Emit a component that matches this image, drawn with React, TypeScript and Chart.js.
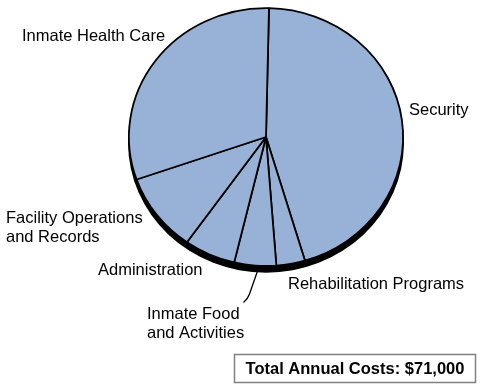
import React, { useEffect, useRef } from "react";
import { Chart, registerables } from "chart.js";

Chart.register(...registerables);

const categories: string[][] = [
  ["Security"],
  ["Rehabilitation Programs"],
  ["Inmate Food", "and Activities"],
  ["Administration"],
  ["Facility Operations", "and Records"],
  ["Inmate Health Care"],
];
const costs: number[] = [32000, 2400, 3500, 4300, 7000, 21800];
const totalLabel = "Total Annual Costs: $71,000";

// label anchor positions (layout only): left x, centre y of first line
const labelPos: [number, number][] = [
  [409, 110],
  [288, 284],
  [147, 314],
  [98, 270],
  [6, 218],
  [22, 36],
];

const FONT = '"Liberation Sans", Arial, Helvetica, sans-serif';
const SQUASH = 0.94;

const pieDecor = {
  id: "pieDecor",
  beforeDatasetsDraw(chart: any) {
    const arc = chart.getDatasetMeta(0).data[0];
    if (!arc) return;
    const { x, y, outerRadius } = arc as any;
    const ctx = chart.ctx as CanvasRenderingContext2D;
    const cy = y - 1;
    // shadow (3D rim)
    ctx.save();
    ctx.fillStyle = "#000";
    ctx.beginPath();
    ctx.ellipse(x, cy + 6, outerRadius + 0.8, outerRadius * SQUASH + 0.8, 0, 0, Math.PI * 2);
    ctx.fill();
    ctx.restore();
    ctx.save();
    ctx.translate(x, cy);
    ctx.scale(1, SQUASH);
    ctx.translate(-x, -y);
  },
  afterDatasetsDraw(chart: any) {
    const ctx = chart.ctx as CanvasRenderingContext2D;
    ctx.restore();
    // labels
    ctx.save();
    ctx.fillStyle = "#000";
    ctx.font = `16.5px ${FONT}`;
    ctx.textBaseline = "middle";
    ctx.textAlign = "left";
    const labels = chart.data.labels as string[][];
    labels.forEach((lines, i) => {
      const [lx, ly] = labelPos[i];
      lines.forEach((t, j) => ctx.fillText(t, lx, ly + j * 19.5));
    });
    // leader line for Inmate Food
    ctx.strokeStyle = "#000";
    ctx.lineWidth = 1.3;
    ctx.beginPath();
    ctx.moveTo(257.5, 271);
    ctx.lineTo(249.5, 294);
    ctx.quadraticCurveTo(247.5, 299.5, 243.5, 302.5);
    ctx.stroke();
    // total box
    ctx.strokeStyle = "#808080";
    ctx.lineWidth = 1.5;
    ctx.strokeRect(234.5, 354.5, 241, 28);
    ctx.font = `bold 16.5px ${FONT}`;
    ctx.textAlign = "center";
    ctx.fillText(totalLabel, 355, 369);
    ctx.restore();
  },
};

export default function App() {
  const ref = useRef<HTMLCanvasElement | null>(null);
  useEffect(() => {
    if (!ref.current) return;
    const chart = new Chart(ref.current, {
      type: "pie",
      data: {
        labels: categories as any,
        datasets: [
          {
            data: costs,
            backgroundColor: "#98b1d6",
            borderColor: "#000",
            borderWidth: 1.8,
          },
        ],
      },
      options: {
        responsive: false,
        animation: false,
        rotation: 1.25,
        layout: { padding: { left: 128, right: 83, top: 0, bottom: 115 } },
        plugins: {
          legend: { display: false },
          tooltip: { enabled: false },
        },
      },
      plugins: [pieDecor],
    });
    return () => chart.destroy();
  }, []);
  return (
    <div style={{ position: "absolute", left: 0, top: 0, width: 487, height: 391, background: "#fff" }}>
      <canvas ref={ref} width={487} height={391} style={{ display: "block" }} />
    </div>
  );
}
